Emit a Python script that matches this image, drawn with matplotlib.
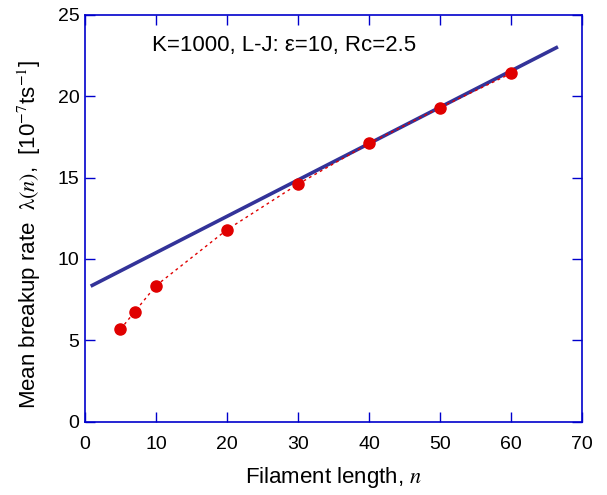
import numpy as np
import matplotlib.pyplot as plt

# measured breakup rates vs filament length
n_vals = [5, 7, 10, 20, 30, 40, 50, 60]
rate = [5.68, 6.76, 8.36, 11.8, 14.6, 17.1, 19.3, 21.4]

# linear fit for long filaments
fit_x = [0.8, 66.6]
fit_a = 8.15
fit_b = 0.2235

plt.rcParams['font.family'] = ['Liberation Sans', 'DejaVu Sans']
plt.rcParams['mathtext.fontset'] = 'stix'

fig = plt.figure(figsize=(6.07, 4.95), dpi=100)
ax = fig.add_axes([0.140, 0.148, 0.819, 0.822])

fx = np.array(fit_x)
ax.plot(fx, fit_a + fit_b * fx, color='#333399', lw=2.6, solid_capstyle='butt')
ax.plot(n_vals, rate, color='#e00000', ls=(0, (2, 2.5)), lw=1.0,
        marker='o', ms=8, mfc='#e00000', mec='#e00000')

ax.set_xlim(0, 70)
ax.set_ylim(0, 25)
ax.set_xticks(np.arange(0, 71, 10))
ax.set_yticks(np.arange(0, 26, 5))

blue = '#0000cc'
for s in ax.spines.values():
    s.set_color(blue)
    s.set_linewidth(1.2)
ax.tick_params(direction='in', top=True, right=True, length=7, width=1.0,
               color=blue, labelcolor='black', labelsize=14)
ax.tick_params(axis='x', pad=10)
ax.tick_params(axis='y', pad=4)

ax.text(9.4, 23.1, 'K=1000, L-J: ε=10, Rc=2.5', fontsize=16, va='center')

ax.set_xlabel(r'Filament length, $\mathit{n}$', fontsize=16, labelpad=9)
ax.set_ylabel(r'Mean breakup rate  $\mathrm{\lambda}(\mathit{n})$,  [10$^{-7}$ts$^{-1}$]',
              fontsize=16)
ax.yaxis.set_label_coords(-0.085, 0.46)

fig.savefig('out.png', dpi=100)
